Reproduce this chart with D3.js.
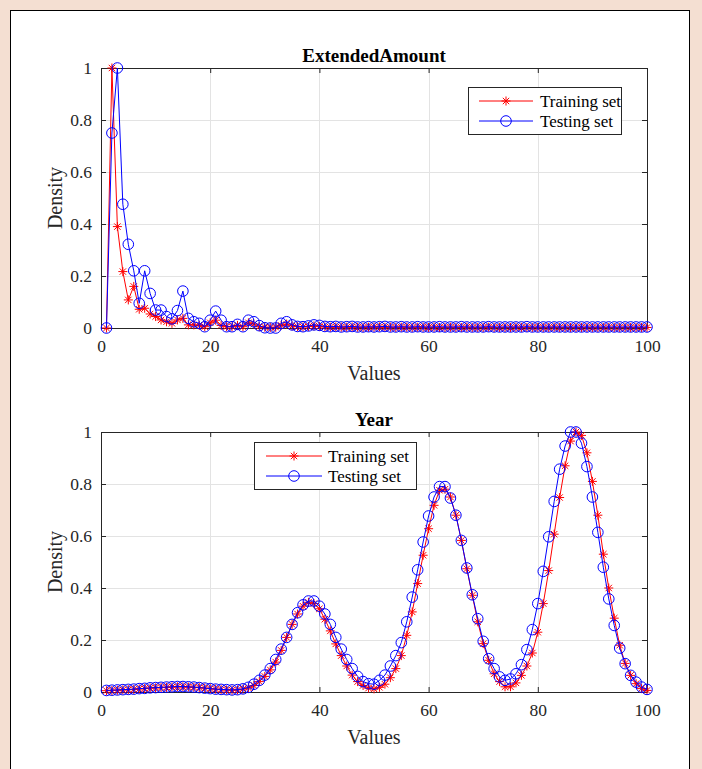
<!DOCTYPE html>
<html lang="en">
<head>
    <meta charset="UTF-8">
    <title>Density plots</title>
    <script type="text/javascript" src="https://cdn.jsdelivr.net/npm/d3@7"></script>
    <style>
        body { margin: 0; background: #f4dfd2; }
        text { font-family: "Liberation Serif", "Times New Roman", serif; fill: #262626; }
        .title { font-weight: bold; font-size: 19px; fill: #000; }
        .tick-label { font-size: 17.5px; }
        .axis-label { font-size: 20px; }
        .legend-text { font-size: 17px; fill: #000; }
    </style>
</head>
<body>
    <script type="text/javascript">
        // bin index of every density value
        const xValues = d3.range(1, 101);
        const xTicks = [0, 20, 40, 60, 80, 100];
        const yTicks = [0, 0.2, 0.4, 0.6, 0.8, 1];
        const seriesNames = ['Training set', 'Testing set'];

        const amountTraining = [
            0, 1.0, 0.39, 0.217, 0.108, 0.16, 0.072, 0.076, 0.054, 0.044,
            0.031, 0.024, 0.018, 0.031, 0.037, 0.012, 0.012, 0.01, 0.005, 0.02,
            0.03, 0.01, 0.005, 0.005, 0.01, 0.005, 0.02, 0.015, 0.005, 0.003,
            0.002, 0.003, 0.01, 0.015, 0.008, 0.005, 0.004, 0.006, 0.008, 0.006,
            0.004, 0.003, 0.004, 0.003, 0.003, 0.004, 0.003, 0.002, 0.003, 0.003,
            0.004, 0.003, 0.003, 0.002, 0.003, 0.003, 0.002, 0.003, 0.003, 0.002,
            0.003, 0.002, 0.002, 0.003, 0.002, 0.002, 0.003, 0.002, 0.002, 0.002,
            0.003, 0.002, 0.002, 0.002, 0.002, 0.003, 0.002, 0.002, 0.002, 0.002,
            0.002, 0.002, 0.003, 0.002, 0.002, 0.002, 0.002, 0.002, 0.002, 0.002,
            0.002, 0.002, 0.002, 0.002, 0.002, 0.002, 0.002, 0.002, 0.002, 0.002
        ];
        const amountTesting = [
            0, 0.75, 1.0, 0.476, 0.322, 0.22, 0.095, 0.22, 0.133, 0.069,
            0.069, 0.044, 0.035, 0.067, 0.142, 0.037, 0.024, 0.018, 0.005, 0.03,
            0.065, 0.03, 0.005, 0.005, 0.014, 0.005, 0.03, 0.024, 0.009, 0.001,
            0, 0, 0.018, 0.024, 0.012, 0.006, 0.005, 0.008, 0.012, 0.01,
            0.006, 0.005, 0.006, 0.004, 0.005, 0.006, 0.004, 0.004, 0.005, 0.004,
            0.005, 0.006, 0.004, 0.004, 0.005, 0.004, 0.004, 0.005, 0.004, 0.004,
            0.004, 0.005, 0.004, 0.004, 0.004, 0.005, 0.004, 0.004, 0.004, 0.004,
            0.005, 0.004, 0.004, 0.004, 0.004, 0.004, 0.004, 0.005, 0.004, 0.004,
            0.004, 0.004, 0.004, 0.004, 0.004, 0.004, 0.004, 0.004, 0.004, 0.004,
            0.004, 0.004, 0.004, 0.004, 0.004, 0.004, 0.004, 0.004, 0.004, 0.004
        ];

        const yearTraining = [
            0.005, 0.006, 0.007, 0.008, 0.009, 0.01, 0.012, 0.013, 0.015, 0.016,
            0.017, 0.018, 0.019, 0.02, 0.02, 0.019, 0.018, 0.017, 0.015, 0.013,
            0.011, 0.009, 0.008, 0.007, 0.008, 0.011, 0.016, 0.025, 0.04, 0.06,
            0.085, 0.115, 0.16, 0.21, 0.26, 0.30, 0.33, 0.345, 0.34, 0.32,
            0.28, 0.235, 0.185, 0.14, 0.10, 0.065, 0.04, 0.025, 0.015, 0.012,
            0.018, 0.03, 0.055, 0.09, 0.14, 0.218, 0.308, 0.417, 0.526, 0.628,
            0.718, 0.776, 0.78, 0.75, 0.68, 0.583, 0.474, 0.372, 0.27, 0.186,
            0.122, 0.07, 0.04, 0.02, 0.02, 0.035, 0.064, 0.10, 0.15, 0.23,
            0.34, 0.467, 0.607, 0.748, 0.87, 0.965, 1.0, 0.987, 0.92, 0.81,
            0.68, 0.53, 0.40, 0.284, 0.18, 0.11, 0.064, 0.032, 0.013, 0.006
        ];
        const yearTesting = [
            0.006, 0.007, 0.008, 0.009, 0.01, 0.011, 0.013, 0.014, 0.016, 0.017,
            0.018, 0.019, 0.02, 0.021, 0.021, 0.02, 0.019, 0.017, 0.015, 0.013,
            0.011, 0.01, 0.009, 0.008, 0.009, 0.012, 0.018, 0.03, 0.045, 0.065,
            0.09, 0.125, 0.165, 0.21, 0.26, 0.305, 0.335, 0.35, 0.35, 0.33,
            0.30, 0.26, 0.21, 0.165, 0.125, 0.09, 0.06, 0.04, 0.032, 0.03,
            0.045, 0.065, 0.10, 0.14, 0.19, 0.27, 0.365, 0.47, 0.577, 0.677,
            0.75, 0.79, 0.79, 0.746, 0.68, 0.583, 0.477, 0.374, 0.282, 0.195,
            0.128, 0.09, 0.058, 0.045, 0.05, 0.07, 0.105, 0.163, 0.24, 0.34,
            0.464, 0.597, 0.733, 0.857, 0.946, 1.0, 1.0, 0.957, 0.867, 0.75,
            0.614, 0.48, 0.358, 0.256, 0.169, 0.109, 0.064, 0.038, 0.019, 0.01
        ];

        const w = 702;
        const h = 769;
        const plotLeft = 101;
        const plotRight = 647;
        const red = '#ff0000';
        const blue = '#0000ff';
        const axisColor = '#262626';

        const svg = d3.select('body')
            .append('svg')
            .attr('width', w)
            .attr('height', h)
            .style('display', 'block');

        // white figure panel
        svg.append('rect')
            .attr('x', 10.5)
            .attr('y', 10.5)
            .attr('width', 679)
            .attr('height', h)
            .attr('fill', '#fff')
            .attr('stroke', '#000')
            .attr('stroke-width', 1);

        makePanel({
            title: 'ExtendedAmount',
            top: 68,
            bottom: 328,
            training: amountTraining,
            testing: amountTesting,
            legend: {x: 468, y: 87, w: 153, h: 47, lineX: 479, lineW: 54, textX: 540}
        });
        makePanel({
            title: 'Year',
            top: 432,
            bottom: 692,
            training: yearTraining,
            testing: yearTesting,
            legend: {x: 254, y: 442, w: 162, h: 47, lineX: 266, lineW: 56, textX: 328}
        });

        function makePanel(cfg) {
            const xScale = d3.scaleLinear().domain([0, 100]).range([plotLeft, plotRight]);
            const yScale = d3.scaleLinear().domain([0, 1]).range([cfg.bottom, cfg.top]);
            const g = svg.append('g');

            // grid
            g.selectAll('.vgrid')
                .data(xTicks.slice(1, -1))
                .enter()
                .append('line')
                .attr('x1', d => Math.round(xScale(d)) + 0.5)
                .attr('x2', d => Math.round(xScale(d)) + 0.5)
                .attr('y1', cfg.top)
                .attr('y2', cfg.bottom)
                .attr('stroke', '#e3e3e3');
            g.selectAll('.hgrid')
                .data(yTicks.slice(1, -1))
                .enter()
                .append('line')
                .attr('x1', plotLeft)
                .attr('x2', plotRight)
                .attr('y1', d => Math.round(yScale(d)) + 0.5)
                .attr('y2', d => Math.round(yScale(d)) + 0.5)
                .attr('stroke', '#e3e3e3');

            // axes with inward ticks on all four sides
            const fmt = d => String(d);
            const axes = [
                [d3.axisBottom(xScale).tickValues(xTicks).tickFormat(fmt).tickPadding(12), 0, cfg.bottom],
                [d3.axisTop(xScale).tickValues(xTicks).tickFormat(''), 0, cfg.top],
                [d3.axisLeft(yScale).tickValues(yTicks).tickFormat(fmt).tickPadding(9), plotLeft, 0],
                [d3.axisRight(yScale).tickValues(yTicks).tickFormat(''), plotRight, 0]
            ];
            axes.forEach(([axis, tx, ty]) => {
                const a = g.append('g')
                    .attr('transform', 'translate(' + tx + ',' + ty + ')')
                    .call(axis.tickSizeInner(-5).tickSizeOuter(0));
                a.select('.domain').attr('stroke', axisColor);
                a.selectAll('.tick line').attr('stroke', axisColor);
                a.selectAll('.tick text')
                    .attr('class', 'tick-label')
                    .attr('fill', axisColor)
                    .style('font-family', '"Liberation Serif", serif')
                    .style('font-size', '17.5px');
            });

            // titles
            g.append('text')
                .attr('class', 'title')
                .attr('x', (plotLeft + plotRight) / 2)
                .attr('y', cfg.top - 6)
                .attr('text-anchor', 'middle')
                .text(cfg.title);
            g.append('text')
                .attr('class', 'axis-label')
                .attr('x', (plotLeft + plotRight) / 2)
                .attr('y', cfg.bottom + 52)
                .attr('text-anchor', 'middle')
                .text('Values');
            g.append('text')
                .attr('class', 'axis-label')
                .attr('transform', 'translate(62,' + (cfg.top + cfg.bottom) / 2 + ') rotate(-90)')
                .attr('text-anchor', 'middle')
                .text('Density');

            const line = d3.line()
                .x((d, i) => xScale(xValues[i]))
                .y(d => yScale(d));

            // training set: red line with asterisks
            g.append('path')
                .datum(cfg.training)
                .attr('d', line)
                .attr('fill', 'none')
                .attr('stroke', red)
                .attr('stroke-width', 1);
            g.selectAll('.star')
                .data(cfg.training)
                .enter()
                .append('path')
                .attr('transform', (d, i) => 'translate(' + xScale(xValues[i]) + ',' + yScale(d) + ')')
                .attr('d', asterisk(4.5))
                .attr('stroke', red)
                .attr('stroke-width', 1)
                .attr('fill', 'none');

            // testing set: blue line with circles
            g.append('path')
                .datum(cfg.testing)
                .attr('d', line)
                .attr('fill', 'none')
                .attr('stroke', blue)
                .attr('stroke-width', 1);
            g.selectAll('.circ')
                .data(cfg.testing)
                .enter()
                .append('circle')
                .attr('cx', (d, i) => xScale(xValues[i]))
                .attr('cy', d => yScale(d))
                .attr('r', 5.3)
                .attr('stroke', blue)
                .attr('stroke-width', 1)
                .attr('fill', 'none');

            // legend
            const L = cfg.legend;
            const lg = g.append('g');
            lg.append('rect')
                .attr('x', L.x + 0.5)
                .attr('y', L.y + 0.5)
                .attr('width', L.w)
                .attr('height', L.h)
                .attr('fill', '#fff')
                .attr('stroke', axisColor);
            seriesNames.forEach((name, i) => {
                const cy = L.y + 14 + i * 20;
                const color = i === 0 ? red : blue;
                lg.append('line')
                    .attr('x1', L.lineX)
                    .attr('x2', L.lineX + L.lineW)
                    .attr('y1', cy)
                    .attr('y2', cy)
                    .attr('stroke', color);
                if (i === 0) {
                    lg.append('path')
                        .attr('transform', 'translate(' + (L.lineX + L.lineW / 2) + ',' + cy + ')')
                        .attr('d', asterisk(4.5))
                        .attr('stroke', color)
                        .attr('fill', 'none');
                } else {
                    lg.append('circle')
                        .attr('cx', L.lineX + L.lineW / 2)
                        .attr('cy', cy)
                        .attr('r', 5.3)
                        .attr('stroke', color)
                        .attr('fill', 'none');
                }
                lg.append('text')
                    .attr('class', 'legend-text')
                    .attr('x', L.textX)
                    .attr('y', cy + 6)
                    .text(name);
            });
        }

        function asterisk(r) {
            const d = r * 0.7071;
            return 'M' + (-r) + ',0H' + r + 'M0,' + (-r) + 'V' + r +
                'M' + (-d) + ',' + (-d) + 'L' + d + ',' + d +
                'M' + (-d) + ',' + d + 'L' + d + ',' + (-d);
        }
    </script>
</body>
</html>
